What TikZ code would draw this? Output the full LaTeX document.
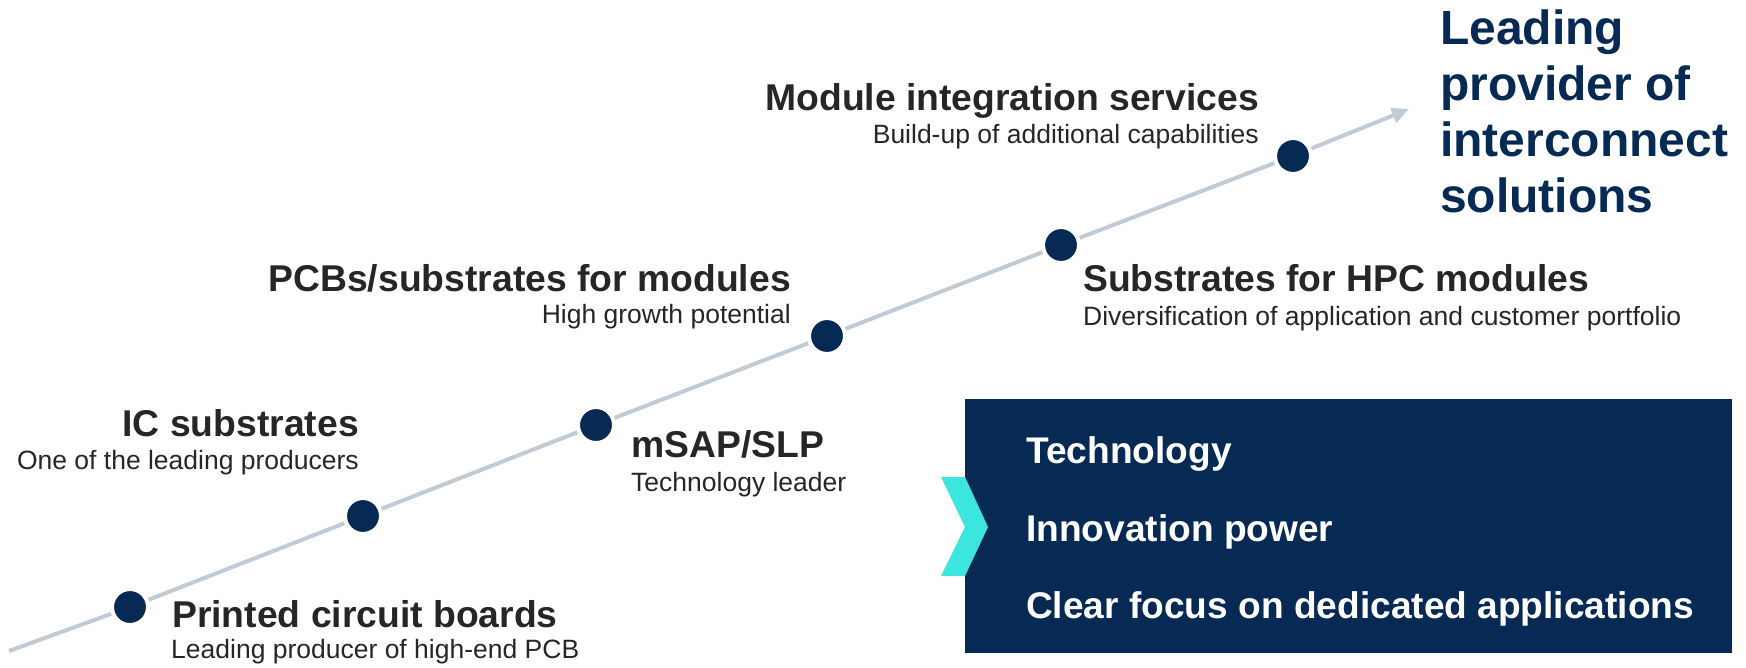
\documentclass[tikz,border=0pt]{standalone}
\usepackage{fontspec}
\setmainfont{Liberation Sans}
\usetikzlibrary{arrows.meta}
\definecolor{navy}{HTML}{072A55}
\definecolor{linegrey}{HTML}{C2CBD5}
\definecolor{txt}{HTML}{262626}
\definecolor{cyanc}{HTML}{3CE6DF}
\begin{document}
\begin{tikzpicture}[x=1pt,y=-1pt,
  title/.style={font=\fontsize{37.3}{40}\selectfont\bfseries, text=txt, inner sep=0pt},
  sub/.style={font=\fontsize{26.5}{30}\selectfont, text=txt, inner sep=0pt},
  boxtxt/.style={font=\fontsize{37.1}{40}\selectfont\bfseries, text=white, inner sep=0pt, anchor=base west},
  dot/.style={circle, fill=navy, draw=white, line width=4pt, minimum size=36pt, inner sep=0pt},
  axis/.style={draw=linegrey, line width=4pt, -{Triangle[length=17pt,width=15pt]}}
]
\useasboundingbox (0,0) rectangle (1746,667);
% timeline
\coordinate (start) at (9,651);
\coordinate (end) at (1409,109);
\node[dot] (d1) at (130,607) {};
\node[dot] (d2) at (363,516) {};
\node[dot] (d3) at (596,425) {};
\node[dot] (d4) at (827,336) {};
\node[dot] (d5) at (1061,245) {};
\node[dot] (d6) at (1293,156) {};
\draw[axis] (start) -- (d1) -- (d2) -- (d3) -- (d4) -- (d5) -- (d6) -- (end);
% labels
\node[title, anchor=base west] (t1) at (172,627) {Printed circuit boards};
\node[sub, anchor=base west] (s1) at (171,658) {Leading producer of high-end PCB};
\node[title, anchor=base east] (t2) at (359,436) {IC substrates};
\node[sub, anchor=base east] (s2) at (359,469) {One of the leading producers};
\node[title, anchor=base west] (t3) at (631,457) {mSAP/SLP};
\node[sub, anchor=base west] (s3) at (631,491) {Technology leader};
\node[title, anchor=base east] (t4) at (791,291) {PCBs/substrates for modules};
\node[sub, anchor=base east] (s4) at (791,323) {High growth potential};
\node[title, anchor=base west] (t5) at (1083,291) {Substrates for HPC modules};
\node[sub, anchor=base west] (s5) at (1083,325) {Diversification of application and customer portfolio};
\node[title, anchor=base east] (t6) at (1259,110) {Module integration services};
\node[sub, anchor=base east] (s6) at (1259,143) {Build-up of additional capabilities};
% goal
\node[font=\fontsize{48}{55.7}\selectfont\bfseries, text=navy, inner sep=0pt, align=left, anchor=base west] (goal) at (1440,212)
  {Leading\\provider of\\interconnect\\solutions};
% box
\node[fill=navy, inner sep=0pt, minimum width=767pt, minimum height=254pt, anchor=north west] (box) at (965,399) {};
\fill[cyanc] (941,477) -- (965,477) -- (988,527) -- (965,576) -- (941,576) -- (965,527) -- cycle;
\node[boxtxt] (b1) at (1026,463) {Technology};
\node[boxtxt] (b2) at (1026,541) {Innovation power};
\node[boxtxt] (b3) at (1026,618) {Clear focus on dedicated applications};
\end{tikzpicture}
\end{document}
